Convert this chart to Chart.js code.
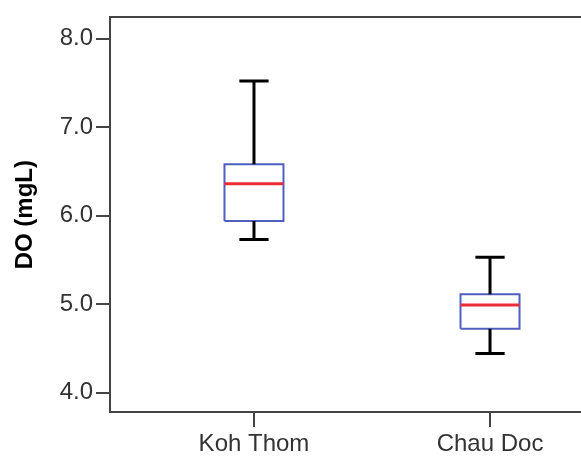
<!DOCTYPE html>
<html>
<head>
<meta charset="utf-8">
<script src="https://cdn.jsdelivr.net/npm/chart.js@4/dist/chart.umd.min.js"></script>
<style>
    html, body { margin: 0; padding: 0; background: #fff; overflow: hidden; }
    #wrap { width: 581px; height: 461px; overflow: hidden; }
</style>
</head>
<body>
<div id="wrap">
    <canvas id="do-boxplot" width="640" height="461" style="width:640px;height:461px"></canvas>
</div>
<script>
// Box plot values (DO in mg/L)
const categories = ['Koh Thom', 'Chau Doc'];
const whiskerLow = [5.73, 4.44];
const q1 = [5.94, 4.72];
const median = [6.36, 4.99];
const q3 = [6.58, 5.11];
const whiskerHigh = [7.52, 5.53];
const yTicks = [4, 5, 6, 7, 8];

const BOX_HALF = 0.125;
const CAP_HALF = 0.062;

function segment(points, color, width) {
    return {
        data: points,
        borderColor: color,
        borderWidth: width,
        pointRadius: 0,
        tension: 0,
        fill: false,
        borderCapStyle: 'butt'
    };
}

// Build one set of line datasets per category
const datasets = [];
categories.forEach((name, i) => {
    const x = i + 1;
    // whiskers and caps
    datasets.push(segment([{x: x, y: q3[i]}, {x: x, y: whiskerHigh[i]}], '#000', 3));
    datasets.push(segment([{x: x, y: whiskerLow[i]}, {x: x, y: q1[i]}], '#000', 3));
    datasets.push(segment([{x: x - CAP_HALF, y: whiskerHigh[i]}, {x: x + CAP_HALF, y: whiskerHigh[i]}], '#000', 3));
    datasets.push(segment([{x: x - CAP_HALF, y: whiskerLow[i]}, {x: x + CAP_HALF, y: whiskerLow[i]}], '#000', 3));
    // median
    datasets.push(segment([{x: x - BOX_HALF, y: median[i]}, {x: x + BOX_HALF, y: median[i]}], '#ee2b38', 3));
    // box outline
    datasets.push(segment([
        {x: x - BOX_HALF, y: q1[i]},
        {x: x - BOX_HALF, y: q3[i]},
        {x: x + BOX_HALF, y: q3[i]},
        {x: x + BOX_HALF, y: q1[i]},
        {x: x - BOX_HALF, y: q1[i]}
    ], '#4f5fc0', 2));
});

const axisColor = '#444';
const labelFont = { family: 'Liberation Sans, Arial, sans-serif', size: 24 };

new Chart(document.getElementById('do-boxplot'), {
    type: 'line',
    data: { datasets: datasets },
    options: {
        responsive: false,
        animation: false,
        layout: { padding: { left: 0, top: 16, right: 6, bottom: 0 } },
        plugins: {
            legend: { display: false },
            tooltip: { enabled: false }
        },
        scales: {
            x: {
                type: 'linear',
                min: 0.39,
                max: 2.61,
                afterBuildTicks: (axis) => { axis.ticks = [{ value: 1 }, { value: 2 }]; },
                afterFit: (axis) => { axis.height = 49; },
                ticks: {
                    callback: (value) => categories[value - 1],
                    color: '#333',
                    font: labelFont,
                    padding: 3,
                    maxRotation: 0
                },
                grid: {
                    drawOnChartArea: false,
                    drawTicks: true,
                    tickLength: 15,
                    color: axisColor,
                    lineWidth: 2
                },
                border: { display: true, color: axisColor, width: 2 }
            },
            xTop: {
                type: 'linear',
                position: 'top',
                min: 0.39,
                max: 2.61,
                afterFit: (axis) => { axis.height = 0; },
                ticks: { display: false },
                grid: { display: false },
                border: { display: true, color: axisColor, width: 2 }
            },
            y: {
                min: 3.78,
                max: 8.24,
                afterBuildTicks: (axis) => { axis.ticks = yTicks.map(v => ({ value: v })); },
                afterFit: (axis) => { axis.width = 110; },
                ticks: {
                    callback: (value) => value.toFixed(1),
                    color: '#333',
                    font: labelFont,
                    padding: 3
                },
                grid: {
                    drawOnChartArea: false,
                    drawTicks: true,
                    tickLength: 14,
                    color: axisColor,
                    lineWidth: 2
                },
                border: { display: true, color: axisColor, width: 2 },
                title: {
                    display: true,
                    text: 'DO (mgL)',
                    color: '#000',
                    font: { family: 'Liberation Sans, Arial, sans-serif', size: 24, weight: 'bold' },
                    padding: { top: 11, bottom: 0 }
                }
            }
        }
    }
});
</script>
</body>
</html>
